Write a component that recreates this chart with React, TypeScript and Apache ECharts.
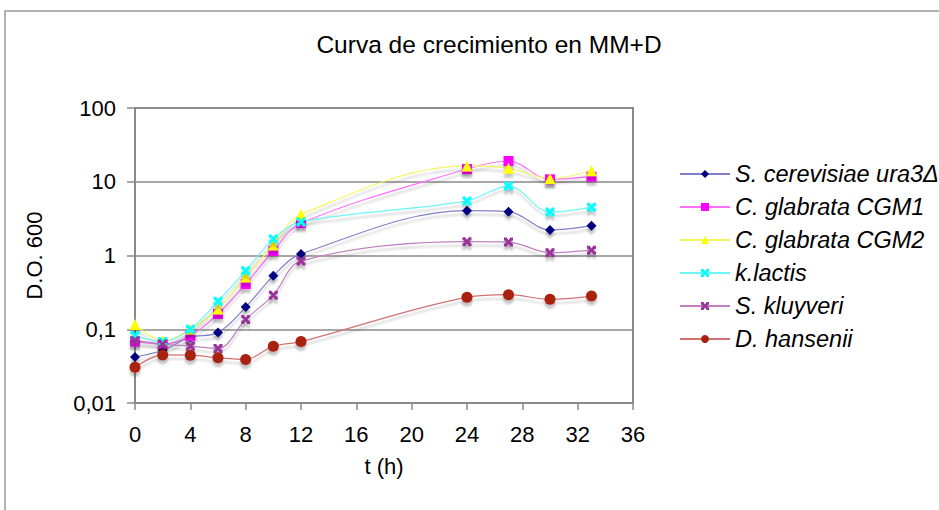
import React, { useEffect, useRef } from "react";
import * as echarts from "echarts";

const hours = [0, 2, 4, 6, 8, 10, 12, 24, 27, 30, 33];
const sCerevisiae = [0.042, 0.052, 0.078, 0.09, 0.2, 0.53, 1.05, 4.05, 3.93, 2.22, 2.54];
const cGlabrataCGM1 = [0.068, 0.063, 0.081, 0.161, 0.41, 1.15, 2.75, 14.9, 19.1, 10.8, 11.7];
const cGlabrataCGM2 = [0.116, 0.07, 0.1, 0.188, 0.51, 1.39, 3.6, 16.4, 15.2, 11.1, 14.1];
const kLactis = [0.082, 0.068, 0.1, 0.24, 0.62, 1.67, 2.85, 5.5, 8.75, 3.89, 4.5];
const sKluyveri = [0.07, 0.063, 0.059, 0.055, 0.136, 0.29, 0.84, 1.54, 1.52, 1.09, 1.18];
const dHansenii = [0.0305, 0.0448, 0.0445, 0.041, 0.039, 0.059, 0.068, 0.271, 0.294, 0.255, 0.282];

const seriesNames = [
  "S. cerevisiae ura3Δ",
  "C. glabrata CGM1",
  "C. glabrata CGM2",
  "k.lactis",
  "S. kluyveri",
  "D. hansenii",
];
const yTickLabels: Record<string, string> = {
  "0.01": "0,01",
  "0.1": "0,1",
  "1": "1",
  "10": "10",
  "100": "100",
};

const xMark =
  "path://M0,0 L3,0 L5,3 L7,0 L10,0 L10,3 L7,5 L10,7 L10,10 L7,10 L5,7 L3,10 L0,10 L0,7 L3,5 L0,3 Z";

export default function App() {
  const ref = useRef<HTMLDivElement>(null);
  useEffect(() => {
    if (!ref.current) return;
    const chart = echarts.init(ref.current, null, { renderer: "svg" });
    const values = [sCerevisiae, cGlabrataCGM1, cGlabrataCGM2, kLactis, sKluyveri, dHansenii];
    const markerColors = ["#000080", "#ff00ff", "#ffff00", "#00ffff", "#993399", "#a8200f"];
    const lineColors = ["#8080c8", "#ff70ff", "#f5f560", "#70f5f5", "#c080c0", "#d07070"];
    const symbols = ["diamond", "rect", "triangle", xMark, xMark, "circle"];
    const sizes = [10, 10, 11, 9, 9, 11];
    const series = values.map((vals, i) => ({
      name: seriesNames[i],
      type: "line",
      smooth: 0.35,
      clip: false,
      data: hours.map((h, j) => [h, vals[j]]),
      symbol: symbols[i],
      symbolSize: sizes[i],
      showSymbol: true,
      lineStyle: {
        color: lineColors[i],
        width: 1.2,
        shadowColor: "rgba(0,0,0,0.22)",
        shadowBlur: 2,
        shadowOffsetY: 4,
      },
      itemStyle: {
        color: markerColors[i],
        borderWidth: 0,
        shadowColor: "rgba(0,0,0,0.22)",
        shadowBlur: 2,
        shadowOffsetY: 4,
      },
      emphasis: { disabled: true },
    }));
    chart.setOption({
      animation: false,
      backgroundColor: "#ffffff",
      title: {
        text: "Curva de crecimiento en MM+D",
        left: 484,
        top: 27,
        textAlign: "center",
        textStyle: {
          fontFamily: "Liberation Sans",
          fontWeight: "normal",
          fontSize: 24.5,
          color: "#000",
        },
      },
      graphic: [
        {
          type: "rect",
          shape: { x: 5, y: 11, width: 1000, height: 600 },
          style: { fill: "none", stroke: "#9a9a9a", lineWidth: 1.5 },
          silent: true,
        },
      ],
      legend: {
        orient: "vertical",
        left: 674,
        top: 157,
        itemWidth: 50,
        itemHeight: 10,
        itemGap: 9,
        data: seriesNames,
        textStyle: {
          fontFamily: "Liberation Sans",
          fontStyle: "italic",
          fontSize: 23.5,
          lineHeight: 24,
          color: "#000",
        },
      },
      grid: {
        left: 135,
        top: 108,
        right: 306,
        bottom: 107,
        show: true,
        borderColor: "#8a8a8a",
        borderWidth: 2,
        backgroundColor: "#fff",
      },
      xAxis: {
        type: "value",
        min: 0,
        max: 36,
        interval: 4,
        name: "t (h)",
        nameLocation: "middle",
        nameGap: 52,
        nameTextStyle: { fontFamily: "Liberation Sans", fontSize: 22, color: "#000" },
        axisLine: { lineStyle: { color: "#8a8a8a", width: 2 } },
        axisTick: { show: true, length: 7, lineStyle: { color: "#8a8a8a", width: 1.5 } },
        axisLabel: { fontFamily: "Liberation Sans", fontSize: 22, color: "#000", margin: 20 },
        splitLine: { show: false },
      },
      yAxis: {
        type: "log",
        logBase: 10,
        min: 0.01,
        max: 100,
        name: "D.O. 600",
        nameLocation: "middle",
        nameGap: 90,
        nameRotate: 90,
        nameTextStyle: { fontFamily: "Liberation Sans", fontSize: 22, color: "#000" },
        axisLine: { show: true, lineStyle: { color: "#8a8a8a", width: 2 } },
        axisTick: { show: true, length: 8, lineStyle: { color: "#8a8a8a", width: 1.5 } },
        axisLabel: {
          fontFamily: "Liberation Sans",
          fontSize: 22,
          color: "#000",
          margin: 19,
          formatter: (v: number) => yTickLabels[String(v)] ?? String(v).replace(".", ","),
        },
        splitLine: { show: true, lineStyle: { color: "#8a8a8a", width: 1.5 } },
        minorTick: { show: false },
      },
      series,
    });
    return () => chart.dispose();
  }, []);
  return (
    <div
      ref={ref}
      style={{ position: "absolute", left: 0, top: 0, width: 939, height: 510 }}
    />
  );
}
